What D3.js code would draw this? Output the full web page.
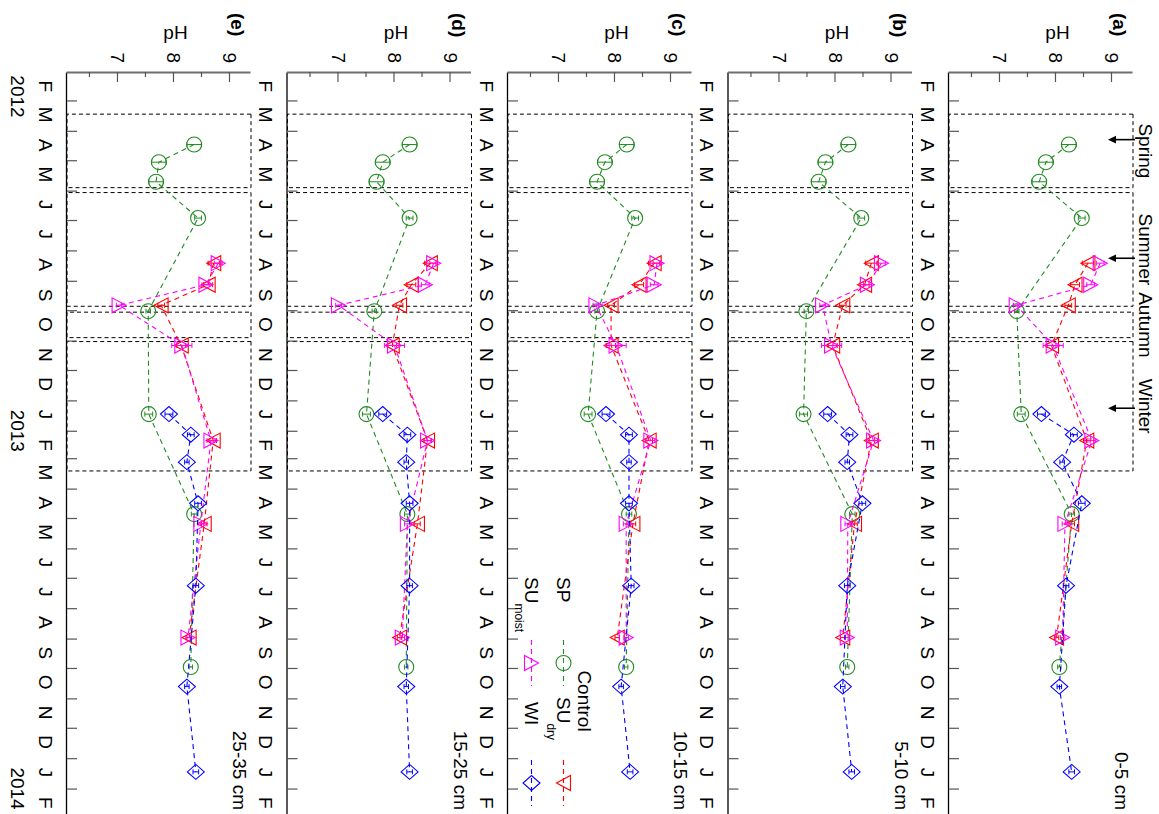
<!DOCTYPE html>
<html>
<head>
<meta charset="utf-8">
<script src="https://cdn.jsdelivr.net/npm/d3@7"></script>
<style>
  body { margin: 0; background: #fff; }
  text { font-family: "Liberation Sans", Arial, sans-serif; }
</style>
</head>
<body>
<svg id="chart" width="1159" height="814"></svg>
<script>
// ---- data -------------------------------------------------------------
const depths = ["0-5 cm", "5-10 cm", "10-15 cm", "15-25 cm", "25-35 cm"];
const panelTags = ["(a)", "(b)", "(c)", "(d)", "(e)"];
const monthLetters = ["J", "F", "M", "A", "M", "J", "J", "A", "S", "O", "N", "D"];
const phTicks = [7, 8, 9];
const phMinorTicks = [6.5, 7.5, 8.5];
const yearLabels = ["2012", "2013", "2014"];
const yearDates = ["2012-02-26", "2013-02-01", "2014-02-01"];

const seasonNames = ["Spring", "Summer", "Autumn", "Winter"];
const seasonStart = ["2012-03-15", "2012-06-03", "2012-10-03", "2012-11-02"];
const seasonEnd = ["2012-05-29", "2012-09-27", "2012-10-29", "2013-03-14"];
const arrowDates = ["2012-04-10", "2012-08-09", "2013-01-09"];

// sampling dates per treatment
const spDates = ["2012-04-15", "2012-05-03", "2012-05-23", "2012-06-29", "2012-10-02", "2013-01-15", "2013-04-27", "2013-09-30"];
const suDates = ["2012-08-14", "2012-09-05", "2012-09-26", "2012-11-06", "2013-02-11", "2013-05-07", "2013-08-31"];
const wiDates = ["2013-01-15", "2013-02-05", "2013-03-05", "2013-04-16", "2013-07-09", "2013-10-20", "2014-01-15"];

// pH per depth layer (rows: 0-5, 5-10, 10-15, 15-25, 25-35 cm)
const spPH = [
  [8.23, 7.82, 7.70, 8.46, 7.30, 7.38, 8.28, 8.06],
  [8.23, 7.82, 7.70, 8.46, 7.48, 7.43, 8.30, 8.21],
  [8.21, 7.82, 7.68, 8.36, 7.68, 7.52, 8.25, 8.20],
  [8.27, 7.79, 7.68, 8.27, 7.64, 7.50, 8.23, 8.21],
  [8.36, 7.73, 7.68, 8.43, 7.54, 7.55, 8.36, 8.30]
];
const suDryPH = [
  [8.57, 8.34, 8.22, 7.92, 8.55, 8.28, 8.01],
  [8.64, 8.52, 8.13, 7.95, 8.64, 8.34, 8.13],
  [8.70, 8.43, 7.93, 7.93, 8.61, 8.32, 8.04],
  [8.64, 8.30, 8.09, 7.96, 8.59, 8.41, 8.09],
  [8.71, 8.61, 7.77, 8.13, 8.70, 8.54, 8.27]
];
const suMoistPH = [
  [8.79, 8.62, 7.29, 7.95, 8.64, 8.16, 8.12],
  [8.82, 8.57, 7.77, 7.93, 8.68, 8.22, 8.21],
  [8.75, 8.70, 7.66, 8.02, 8.64, 8.20, 8.20],
  [8.70, 8.55, 7.00, 8.00, 8.59, 8.23, 8.14],
  [8.79, 8.57, 7.02, 8.14, 8.66, 8.48, 8.25]
];
const wiPH = [
  [7.74, 8.32, 8.11, 8.46, 8.18, 8.06, 8.28],
  [7.86, 8.25, 8.21, 8.48, 8.21, 8.13, 8.29],
  [7.84, 8.25, 8.25, 8.25, 8.29, 8.11, 8.27],
  [7.79, 8.23, 8.21, 8.27, 8.27, 8.21, 8.27],
  [7.91, 8.30, 8.23, 8.43, 8.39, 8.23, 8.39]
];
// standard errors
const spErr = [0.13, 0.13, 0.13, 0.06, 0.04, 0.07, 0.05, 0.03];
const suDryErr = [0.10, 0.08, 0.06, 0.08, 0.06, 0.05, 0.04];
const suMoistErr = [0.07, 0.07, 0.05, 0.18, 0.07, 0.05, 0.04];
const wiErr = [0.07, 0.06, 0.04, 0.06, 0.05, 0.04, 0.05];

// ---- layout -------------------------------------------------------------
const parse = d3.timeParse("%Y-%m-%d");
const svg = d3.select("#chart");
// the figure is laid out as a tall page and turned a quarter turn clockwise
const fig = svg.append("g").attr("transform", "translate(1159,0) rotate(90)");

const panelH = 184, panelStep = 220.5, firstTop = 26;
const x = d3.scaleTime()
  .domain([parse("2012-02-01"), parse("2014-03-01")])
  .range([72, 816]);

const series = [
  { name: "SP", dates: spDates, ph: spPH, err: spErr, color: "#228b22", shape: "circle" },
  { name: "SUdry", dates: suDates, ph: suDryPH, err: suDryErr, color: "#ff0000", shape: "triDown" },
  { name: "SUmoist", dates: suDates, ph: suMoistPH, err: suMoistErr, color: "#ff00ff", shape: "triUp" },
  { name: "WI", dates: wiDates, ph: wiPH, err: wiErr, color: "#0000ff", shape: "diamond" }
];

const shapes = {
  triUp: "M0,-7L7.5,7L-7.5,7Z",
  triDown: "M0,7L7.5,-7L-7.5,-7Z",
  diamond: "M0,-8.5L7.5,0L0,8.5L-7.5,0Z"
};

function drawMarker(sel, shape, color) {
  if (shape === "circle") {
    sel.append("circle").attr("r", 7.5)
      .attr("fill", "none").attr("stroke", color).attr("stroke-width", 1.1);
  } else {
    sel.append("path").attr("d", shapes[shape])
      .attr("fill", "none").attr("stroke", color).attr("stroke-width", 1.1);
  }
}

const months = d3.timeMonth.range(parse("2012-02-01"), parse("2014-03-01"));
const monthMids = months.map(m => d3.timeDay.offset(m, 14));

depths.forEach((depth, i) => {
  const top = firstTop + i * panelStep;
  const bottom = top + panelH;
  const y = d3.scaleLinear().domain([6.09, 9.375]).range([bottom, top]);
  const p = fig.append("g");

  // season windows
  seasonNames.forEach((s, k) => {
    const x0 = x(parse(seasonStart[k])), x1 = x(parse(seasonEnd[k]));
    p.append("rect")
      .attr("x", x0).attr("y", top)
      .attr("width", x1 - x0).attr("height", panelH)
      .attr("fill", "none").attr("stroke", "#000")
      .attr("stroke-width", 1).attr("stroke-dasharray", "4,3");
  });

  // time axis: month boundaries
  const tAxis = p.append("g").attr("transform", `translate(0,${bottom})`)
    .call(d3.axisBottom(x).tickValues(months.slice(1)).tickFormat("")
      .tickSizeInner(-10).tickSizeOuter(0));
  tAxis.select(".domain").attr("stroke", "#000").attr("stroke-width", 1.3);
  tAxis.selectAll(".tick line").attr("stroke", "#555").attr("stroke-width", 1.2);

  // month initials
  const mAxis = p.append("g").attr("transform", `translate(0,${bottom})`)
    .call(d3.axisBottom(x).tickValues(monthMids)
      .tickFormat(d => monthLetters[d.getMonth()])
      .tickSize(0).tickPadding(15));
  mAxis.select(".domain").remove();
  mAxis.selectAll("text").attr("font-size", 19).attr("fill", "#000")
    .style("font-family", '"Liberation Sans", Arial, sans-serif');

  // pH axis
  const yAxis = p.append("g").attr("transform", "translate(72,0)")
    .call(d3.axisLeft(y).tickValues(phTicks).tickFormat(d3.format("d"))
      .tickSizeInner(-10).tickSizeOuter(0).tickPadding(9));
  yAxis.select(".domain").attr("stroke", "#6e6e6e").attr("stroke-width", 1.8);
  yAxis.selectAll(".tick line").attr("stroke", "#555").attr("stroke-width", 1.2);
  yAxis.selectAll("text").attr("font-size", 19).attr("fill", "#000")
    .style("font-family", '"Liberation Sans", Arial, sans-serif');
  const yMinor = p.append("g").attr("transform", "translate(72,0)")
    .call(d3.axisLeft(y).tickValues(phMinorTicks).tickFormat("")
      .tickSizeInner(-5).tickSizeOuter(0));
  yMinor.select(".domain").remove();
  yMinor.selectAll(".tick line").attr("stroke", "#555").attr("stroke-width", 1.2);

  p.append("text").attr("transform", `translate(39,${top + 75.5}) rotate(-90)`)
    .attr("text-anchor", "middle").attr("font-size", 19).text("pH");
  p.append("text").attr("x", 13).attr("y", top + 20)
    .attr("font-size", 19).attr("font-weight", "bold").text(panelTags[i]);
  p.append("text").attr("x", 810).attr("y", top + 18)
    .attr("text-anchor", "end").attr("font-size", 19).text(depth);

  // treatments
  series.forEach(s => {
    const pts = s.dates.map((d, k) => ({ t: parse(d), v: s.ph[i][k], e: s.err[k] }));
    p.append("path").datum(pts)
      .attr("d", d3.line().x(d => x(d.t)).y(d => y(d.v)))
      .attr("fill", "none").attr("stroke", s.color)
      .attr("stroke-width", 1.1).attr("stroke-dasharray", "5,4");
    const m = p.selectAll(null).data(pts).enter().append("g")
      .attr("transform", d => `translate(${x(d.t)},${y(d.v)})`);
    m.append("path")
      .attr("d", d => {
        const a = y(d.v + d.e) - y(d.v), b = y(d.v - d.e) - y(d.v);
        return `M0,${a}V${b}M-2.5,${a}H2.5M-2.5,${b}H2.5`;
      })
      .attr("fill", "none").attr("stroke", s.color).attr("stroke-width", 1);
    m.each(function () { drawMarker(d3.select(this), s.shape, s.color); });
  });
});

// season labels and arrows above the first panel
const arrowTop = firstTop - 2, arrowTip = firstTop + 25;
seasonNames.forEach((s, k) => {
  const mid = (x(parse(seasonStart[k])) + x(parse(seasonEnd[k]))) / 2;
  fig.append("text").attr("x", mid).attr("y", 20)
    .attr("text-anchor", "middle").attr("font-size", 19).text(s);
});
arrowDates.forEach(d => {
  const ax = x(parse(d));
  fig.append("line").attr("x1", ax).attr("x2", ax)
    .attr("y1", arrowTop).attr("y2", arrowTip - 6)
    .attr("stroke", "#000").attr("stroke-width", 1.6);
  fig.append("path")
    .attr("d", `M${ax},${arrowTip}L${ax - 3.8},${arrowTip - 8}L${ax + 3.8},${arrowTip - 8}Z`)
    .attr("fill", "#000");
});

// years under the last panel
const lastBottom = firstTop + 4 * panelStep + panelH;
yearLabels.forEach((yl, k) => {
  fig.append("text").attr("x", x(parse(yearDates[k]))).attr("y", lastBottom + 56.5)
    .attr("text-anchor", "middle").attr("font-size", 19).text(yl);
});

// legend
const lg = fig.append("g");
lg.append("text").attr("x", 701).attr("y", 581)
  .attr("text-anchor", "middle").attr("font-size", 19).text("Control");
const legendRows = [
  { s: series[0], label: "SP", sub: "", tx: 577, sx: 663, base: 602 },
  { s: series[1], label: "SU", sub: "dry", tx: 697, sx: 783, base: 602 },
  { s: series[2], label: "SU", sub: "moist", tx: 577, sx: 663, base: 634 },
  { s: series[3], label: "WI", sub: "", tx: 702, sx: 783, base: 634 }
];
legendRows.forEach(r => {
  const t = lg.append("text").attr("x", r.tx).attr("y", r.base).attr("font-size", 19);
  t.append("tspan").text(r.label);
  if (r.sub) {
    t.append("tspan").attr("dy", 10).attr("font-size", 12).text(r.sub);
  }
  const cy = r.base - 6.5;
  lg.append("line").attr("x1", r.sx - 23).attr("x2", r.sx + 23)
    .attr("y1", cy).attr("y2", cy)
    .attr("stroke", r.s.color).attr("stroke-width", 1.1).attr("stroke-dasharray", "5,4");
  const mk = lg.append("g").attr("transform", `translate(${r.sx},${cy})`);
  drawMarker(mk, r.s.shape, r.s.color);
});
</script>
</body>
</html>
